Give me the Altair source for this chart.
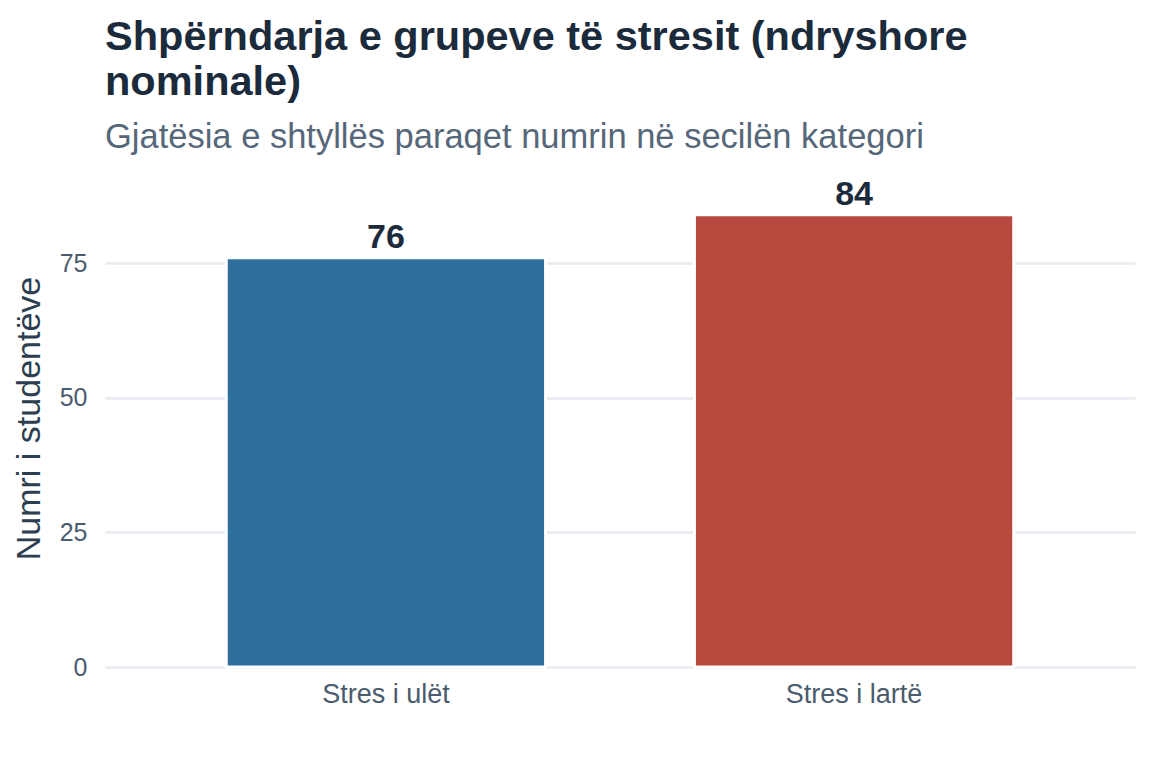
import altair as alt
import pandas as pd

categories = ["Stres i ulët", "Stres i lartë"]
counts = [76, 84]
colors = ["#2e6f9e", "#b8493e"]

df = pd.DataFrame({"kategoria": categories, "numri": counts, "ngjyra": colors})

FONT = "Liberation Sans"

base = alt.Chart(df).encode(
    x=alt.X(
        "kategoria:N",
        sort=categories,
        title=None,
        scale=alt.Scale(paddingInner=0.318, paddingOuter=0.259),
        axis=alt.Axis(
            labelFont=FONT, labelFontSize=27, labelColor="#4a5b6e",
            labelPadding=14, ticks=False, domain=False, grid=False, labelAngle=0,
        ),
    ),
    y=alt.Y(
        "numri:Q",
        title="Numri i studentëve",
        scale=alt.Scale(domain=[0, 92.5], nice=False, zero=True),
        axis=alt.Axis(
            values=[0, 25, 50, 75], labelFont=FONT, labelFontSize=25,
            labelColor="#4a5b6e", labelPadding=18, ticks=False, domain=False,
            grid=True, gridColor="#e6ebf0", gridWidth=2.5,
            titleFont=FONT, titleFontSize=34, titleFontWeight="normal",
            titleColor="#2c3e50", titlePadding=13,
        ),
    ),
)

bars = base.mark_bar(stroke="white", strokeWidth=3).encode(
    color=alt.Color("ngjyra:N", scale=None, legend=None)
)

labels = base.mark_text(
    font=FONT, fontSize=34, fontWeight="bold", color="#1b2b3b",
    baseline="alphabetic", dy=-10,
).encode(text=alt.Text("numri:Q"))

chart = (bars + labels).properties(
    width=1030,
    height=498,
    padding={"left": 97, "top": 161, "right": 5, "bottom": 80},
    autosize=alt.AutoSizeParams(type="none"),
    title=alt.TitleParams(
        text=["Shpërndarja e grupeve të stresit (ndryshore", "nominale)"],
        subtitle="Gjatësia e shtyllës paraqet numrin në secilën kategori",
        anchor="start", frame="group", offset=15,
        font=FONT, fontSize=41.5, fontWeight="bold", color="#1b2b3b", lineHeight=45,
        subtitleFont=FONT, subtitleFontSize=34.5, subtitleColor="#56677a",
        subtitlePadding=17,
    ),
).configure(background="white").configure_view(stroke="transparent", strokeWidth=0)

chart.save("out.html", embed_options={"renderer": "svg", "actions": False})
